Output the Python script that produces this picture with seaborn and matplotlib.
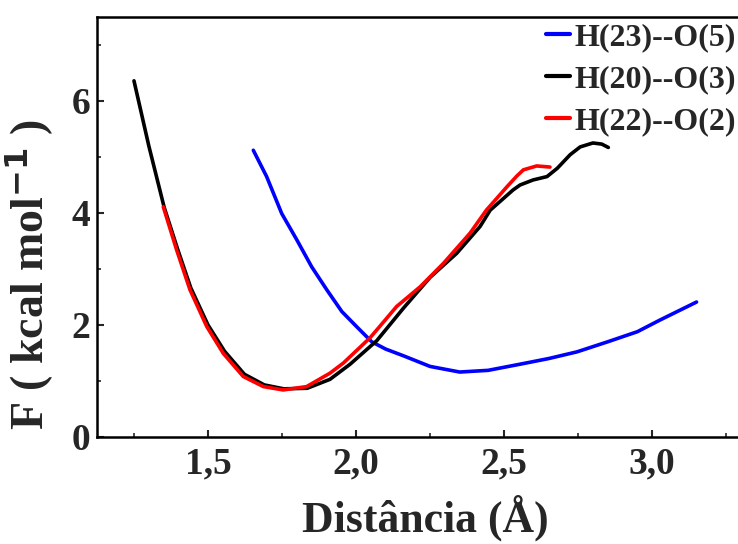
import numpy as np
import pandas as pd
import matplotlib
matplotlib.use("Agg")
import matplotlib.pyplot as plt
import seaborn as sns
from matplotlib.ticker import MultipleLocator, FuncFormatter

# Free-energy profiles along the H...O distance
labels = ["H(23)--O(5)", "H(20)--O(3)", "H(22)--O(2)"]
colors = ["#0000ff", "#000000", "#ff0000"]

d_h23 = [1.653, 1.698, 1.749, 1.80, 1.85, 1.901, 1.952, 2.002, 2.053,
         2.10, 2.16, 2.25, 2.35, 2.446, 2.554, 2.65, 2.746, 2.85, 2.95, 3.027, 3.15]
f_h23 = [5.12, 4.65, 3.99, 3.52, 3.04, 2.63, 2.24, 1.97, 1.70,
         1.57, 1.45, 1.26, 1.16, 1.19, 1.30, 1.40, 1.52, 1.70, 1.88, 2.09, 2.41]

d_h20 = [1.25, 1.30, 1.352, 1.397, 1.442, 1.50, 1.556, 1.623, 1.69, 1.756,
         1.835, 1.912, 1.98, 2.07, 2.16, 2.25, 2.34, 2.419, 2.453, 2.498,
         2.53, 2.554, 2.598, 2.645, 2.68, 2.723, 2.757, 2.80, 2.83, 2.852]
f_h20 = [6.36, 5.20, 4.10, 3.36, 2.66, 2.00, 1.53, 1.12, 0.93, 0.86,
         0.87, 1.03, 1.30, 1.72, 2.30, 2.85, 3.28, 3.76, 4.05, 4.26,
         4.41, 4.50, 4.59, 4.65, 4.80, 5.04, 5.18, 5.25, 5.23, 5.17]

d_h22 = [1.349, 1.394, 1.439, 1.496, 1.552, 1.619, 1.687, 1.754, 1.833, 1.912,
         1.957, 1.991, 2.047, 2.081, 2.137, 2.216, 2.295, 2.385, 2.44, 2.51,
         2.543, 2.565, 2.61, 2.655]
f_h22 = [4.11, 3.34, 2.63, 1.97, 1.49, 1.08, 0.90, 0.84, 0.90, 1.14,
         1.32, 1.49, 1.77, 1.98, 2.33, 2.68, 3.10, 3.64, 4.05, 4.47,
         4.66, 4.77, 4.84, 4.82]

x_ticks = [1.5, 2.0, 2.5, 3.0]
y_ticks = [0, 2, 4, 6]

frames = []
for lab, d, f in zip(labels, [d_h23, d_h20, d_h22], [f_h23, f_h20, f_h22]):
    frames.append(pd.DataFrame({"dist": d, "F": f, "par": lab}))
df = pd.concat(frames, ignore_index=True)

sns.set_theme(style="white")
plt.rcParams["font.family"] = ["Liberation Serif", "DejaVu Serif"]
plt.rcParams["font.weight"] = "bold"
plt.rcParams["mathtext.fontset"] = "custom"
plt.rcParams["mathtext.rm"] = "Liberation Serif:bold"
plt.rcParams["mathtext.default"] = "rm"

fig = plt.figure(figsize=(7.38, 5.44), dpi=100)
ax = fig.add_axes([0.1314, 0.1967, 0.8686, 0.7721])

sns.lineplot(data=df, x="dist", y="F", hue="par", hue_order=labels,
             palette=dict(zip(labels, colors)), sort=False, estimator=None,
             units="par", linewidth=2.6, ax=ax)

ax.set_xlim(1.125, 3.29)
ax.set_ylim(0, 7.5)
ax.set_xticks(x_ticks)
ax.set_yticks(y_ticks)
ax.xaxis.set_minor_locator(MultipleLocator(0.25))
ax.yaxis.set_minor_locator(MultipleLocator(1))
ax.xaxis.set_major_formatter(FuncFormatter(lambda v, p: f"{v:.1f}".replace(".", ",")))
ax.yaxis.set_major_formatter(FuncFormatter(lambda v, p: f"{v:.0f}"))

ax.tick_params(axis="both", which="major", direction="in", length=5, width=1.5,
               labelsize=27, bottom=True, left=True)
ax.tick_params(axis="x", which="major", pad=7)
ax.tick_params(axis="y", which="major", pad=5)
ax.tick_params(axis="both", which="minor", direction="in", length=3, width=1.2,
               bottom=True, left=True)
for lab in ax.get_xticklabels() + ax.get_yticklabels():
    lab.set_fontweight("bold")

for side in ["left", "bottom", "top"]:
    ax.spines[side].set_visible(True)
    ax.spines[side].set_color("black")
    ax.spines[side].set_linewidth(1.8)
ax.spines["right"].set_visible(False)

ax.set_xlabel("Distância (Å)", fontsize=31.5, fontweight="bold")
ax.xaxis.set_label_coords(0.512, -0.226)
ax.xaxis.label.set_verticalalignment("baseline")

ax.set_ylabel(r"F ( kcal mol$^{\mathbf{-1}}$ )", fontsize=33, fontweight="bold")
ax.yaxis.set_label_coords(-0.1045, 0.386)
ax.yaxis.label.set_verticalalignment("center")

leg = ax.legend(loc="upper right", bbox_to_anchor=(1.0175, 1.016), frameon=False,
                handlelength=0.75, handletextpad=0.15, labelspacing=0.39,
                borderaxespad=0.0, prop={"size": 23, "weight": "bold"})
for h in leg.get_lines():
    h.set_linewidth(3)

fig.savefig("out.png", dpi=100)
